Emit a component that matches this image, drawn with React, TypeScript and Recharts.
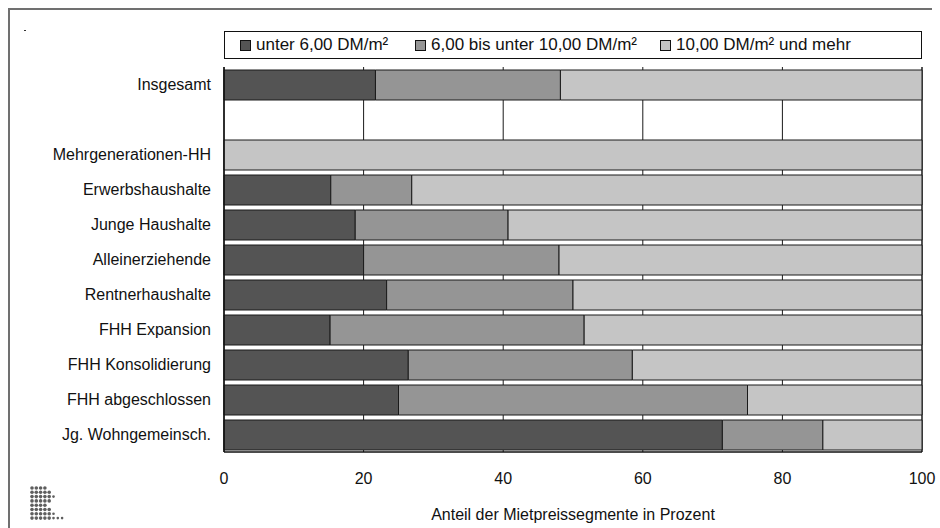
import { Bar, BarChart, CartesianGrid, Legend, XAxis, YAxis } from "recharts";

const CATEGORIES = [
  "Insgesamt",
  "",
  "Mehrgenerationen-HH",
  "Erwerbshaushalte",
  "Junge Haushalte",
  "Alleinerziehende",
  "Rentnerhaushalte",
  "FHH Expansion",
  "FHH Konsolidierung",
  "FHH abgeschlossen",
  "Jg. Wohngemeinsch.",
];

// shares in percent, per category (null = spacer row)
const UNTER_6 = [21.7, null, 0, 15.3, 18.8, 20.0, 23.3, 15.2, 26.4, 25.0, 71.4];
const VON_6_BIS_10 = [26.5, null, 0, 11.6, 21.9, 28.0, 26.7, 36.4, 32.1, 50.0, 14.4];
const AB_10 = [51.8, null, 100, 73.1, 59.3, 52.0, 50.0, 48.4, 41.5, 25.0, 14.2];

const X_TICKS = [0, 20, 40, 60, 80, 100];

const SERIES = [
  { key: "low", name: "unter 6,00 DM/m²", color: "#545454", values: UNTER_6 },
  { key: "mid", name: "6,00 bis unter 10,00 DM/m²", color: "#959595", values: VON_6_BIS_10 },
  { key: "high", name: "10,00 DM/m² und mehr", color: "#c5c5c5", values: AB_10 },
];

// left edge of each legend entry inside the legend box
const LEGEND_OFFSETS = [16, 191, 436];

const FONT = "'Liberation Sans', Arial, Helvetica, sans-serif";

const data = CATEGORIES.map((name, i) => {
  const row: Record<string, string | number | null> = { name };
  SERIES.forEach((s) => {
    row[s.key] = s.values[i];
  });
  return row;
});

// dot rows of the little logo in the corner
const LOGO_ROWS = [4, 5, 6, 5, 4, 5, 6, 8];

function LegendBox() {
  return (
    <div
      style={{
        position: "relative",
        boxSizing: "border-box",
        width: 698,
        height: 28,
        border: "1px solid #111",
        background: "#fff",
        fontFamily: FONT,
        fontSize: 17,
        color: "#111",
        whiteSpace: "nowrap",
      }}
    >
      {SERIES.map((s, i) => (
        <span
          key={s.key}
          style={{
            position: "absolute",
            left: LEGEND_OFFSETS[i] - 1,
            top: 0,
            height: 26,
            display: "flex",
            alignItems: "center",
          }}
        >
          <span
            style={{
              boxSizing: "border-box",
              width: 11,
              height: 11,
              border: "1px solid #111",
              background: s.color,
              marginRight: 5,
            }}
          />
          {s.name}
        </span>
      ))}
    </div>
  );
}

function Logo() {
  return (
    <svg width={40} height={36} style={{ position: "absolute", left: 29, top: 485 }}>
      {LOGO_ROWS.map((count, r) =>
        Array.from({ length: count }).map((_, c) => (
          <circle
            key={`${r}-${c}`}
            cx={3 + c * 4.3}
            cy={3 + r * 4.3}
            r={c >= 5 ? 1.3 : 1.8}
            fill="#5e5e5e"
          />
        )),
      )}
    </svg>
  );
}

export default function App() {
  return (
    <div
      style={{
        position: "absolute",
        left: 0,
        top: 0,
        width: 940,
        height: 528,
        background: "#fff",
        overflow: "hidden",
      }}
    >
      <div
        style={{
          position: "absolute",
          left: 8,
          top: 8,
          width: 922,
          height: 530,
          borderTop: "2px solid #707070",
          borderLeft: "2px solid #707070",
        }}
      />
      <div style={{ position: "absolute", left: 24, top: 30, width: 2, height: 1, background: "#333" }} />
      <Logo />
      <div style={{ position: "absolute", left: 0, top: 0 }}>
        <BarChart
          width={940}
          height={528}
          data={data}
          layout="vertical"
          margin={{ top: 67, right: 18, bottom: 0, left: 10 }}
          barSize={30}
        >
          <CartesianGrid horizontal={false} stroke="#1a1a1a" strokeWidth={1} />
          <XAxis
            type="number"
            domain={[0, 100]}
            ticks={X_TICKS}
            tickLine={false}
            tickSize={0}
            tickMargin={21}
            height={76}
            axisLine={{ stroke: "#111", strokeWidth: 1.5 }}
            tick={{ fill: "#111", fontSize: 16, fontFamily: FONT }}
            label={{
              value: "Anteil der Mietpreissegmente in Prozent",
              position: "insideBottom",
              offset: 8,
              fill: "#111",
              fontSize: 16,
              fontFamily: FONT,
            }}
          />
          <XAxis
            xAxisId="top"
            orientation="top"
            type="number"
            domain={[0, 100]}
            height={0}
            tick={false}
            tickLine={false}
            axisLine={{ stroke: "#9a9a9a", strokeWidth: 1.5 }}
          />
          <YAxis
            type="category"
            dataKey="name"
            width={214}
            interval={0}
            tickLine={false}
            tickSize={0}
            tickMargin={13}
            axisLine={{ stroke: "#111", strokeWidth: 1.5 }}
            tick={{ fill: "#111", fontSize: 16, fontFamily: FONT }}
          />
          <Legend
            layout="horizontal"
            verticalAlign="middle"
            align="center"
            wrapperStyle={{ top: 31, left: 224, width: 698, height: 28 }}
            content={() => <LegendBox />}
          />
          {SERIES.map((s) => (
            <Bar
              key={s.key}
              dataKey={s.key}
              name={s.name}
              stackId="a"
              fill={s.color}
              stroke="#1a1a1a"
              strokeWidth={1}
              isAnimationActive={false}
            />
          ))}
        </BarChart>
      </div>
    </div>
  );
}
